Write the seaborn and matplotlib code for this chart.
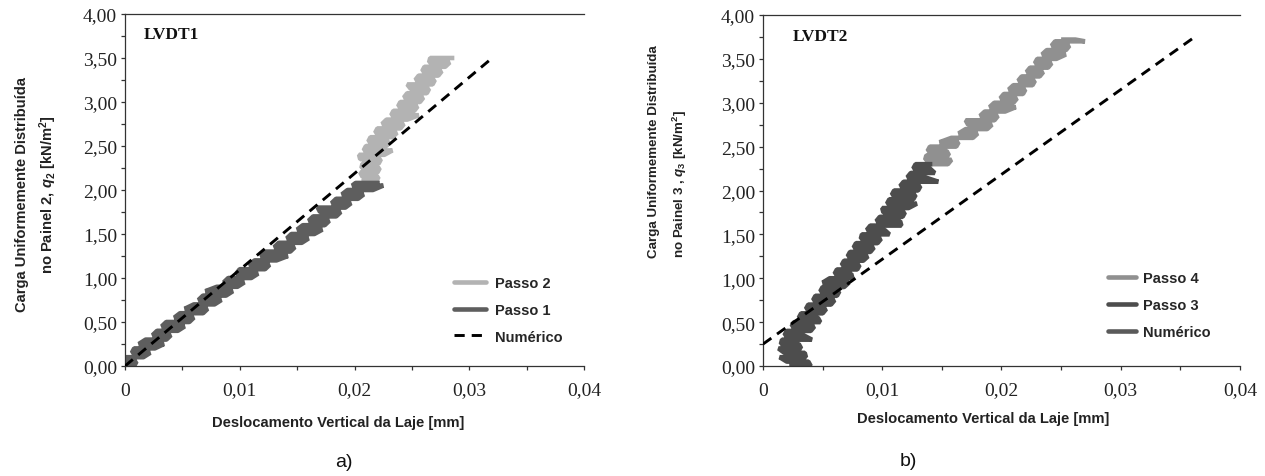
import matplotlib
matplotlib.use("Agg")
import matplotlib.pyplot as plt
from matplotlib.lines import Line2D
from matplotlib.ticker import MultipleLocator, FuncFormatter
import pandas as pd
import seaborn as sns

# ---------------- data ----------------
# LVDT1 - load step 1 (dark) and load step 2 (light); displacement in mm, load in kN/m2
p1_load = [0.00, 0.00, 0.05, 0.05, 0.10, 0.10, 0.15, 0.15, 0.20, 0.20, 0.25, 0.25,
           0.30, 0.30, 0.35, 0.35, 0.40, 0.40, 0.45, 0.45, 0.50, 0.50, 0.55, 0.55,
           0.60, 0.60, 0.65, 0.65, 0.70, 0.70, 0.75, 0.75, 0.80, 0.80, 0.85, 0.85,
           0.90, 0.90, 0.95, 0.95, 1.00, 1.00, 1.05, 1.05, 1.10, 1.10, 1.15, 1.15,
           1.20, 1.20, 1.25, 1.25, 1.30, 1.30, 1.35, 1.35, 1.40, 1.40, 1.45, 1.45,
           1.50, 1.50, 1.55, 1.55, 1.60, 1.60, 1.65, 1.65, 1.70, 1.70, 1.75, 1.75,
           1.80, 1.80, 1.85, 1.85, 1.90, 1.90, 1.95, 1.95, 2.00, 2.00, 2.05, 2.05,
           2.08, 2.08]
p1_disp = [0.0000, 0.0008, 0.0010, 0.0002, 0.0001, 0.0016, 0.0022, 0.0006, 0.0008, 0.0026,
           0.0034, 0.0012, 0.0018, 0.0036, 0.0040, 0.0024, 0.0028, 0.0046, 0.0052, 0.0032,
           0.0036, 0.0056, 0.0060, 0.0043, 0.0048, 0.0068, 0.0072, 0.0052, 0.0060, 0.0078,
           0.0084, 0.0064, 0.0068, 0.0088, 0.0094, 0.0070, 0.0080, 0.0098, 0.0104, 0.0086,
           0.0090, 0.0110, 0.0116, 0.0097, 0.0100, 0.0122, 0.0126, 0.0108, 0.0113, 0.0132,
           0.0142, 0.0118, 0.0123, 0.0144, 0.0148, 0.0130, 0.0134, 0.0154, 0.0160, 0.0141,
           0.0145, 0.0165, 0.0172, 0.0150, 0.0155, 0.0174, 0.0178, 0.0160, 0.0164, 0.0184,
           0.0188, 0.0170, 0.0168, 0.0192, 0.0197, 0.0180, 0.0184, 0.0203, 0.0208, 0.0189,
           0.0194, 0.0216, 0.0225, 0.0198, 0.0201, 0.0222]

p2_load = [2.10, 2.10, 2.15, 2.15, 2.20, 2.20, 2.25, 2.25, 2.30, 2.30, 2.35, 2.35,
           2.40, 2.40, 2.45, 2.45, 2.50, 2.50, 2.55, 2.55, 2.60, 2.60, 2.65, 2.65,
           2.70, 2.70, 2.75, 2.75, 2.80, 2.80, 2.85, 2.85, 2.90, 2.90, 2.95, 2.95,
           3.00, 3.00, 3.05, 3.05, 3.10, 3.10, 3.15, 3.15, 3.20, 3.20, 3.25, 3.25,
           3.30, 3.30, 3.35, 3.35, 3.40, 3.40, 3.45, 3.45, 3.50, 3.50]
p2_disp = [0.0206, 0.0219, 0.0221, 0.0207, 0.0205, 0.0220, 0.0222, 0.0206, 0.0207, 0.0221,
           0.0223, 0.0205, 0.0204, 0.0226, 0.0233, 0.0208, 0.0210, 0.0228, 0.0230, 0.0212,
           0.0214, 0.0233, 0.0237, 0.0218, 0.0220, 0.0240, 0.0243, 0.0224, 0.0228, 0.0246,
           0.0256, 0.0232, 0.0234, 0.0252, 0.0255, 0.0238, 0.0240, 0.0257, 0.0260, 0.0243,
           0.0246, 0.0263, 0.0265, 0.0249, 0.0246, 0.0268, 0.0270, 0.0253, 0.0256, 0.0273,
           0.0276, 0.0259, 0.0261, 0.0279, 0.0283, 0.0265, 0.0266, 0.0287]

num1_disp = [0.0, 0.032]
num1_load = [0.0, 3.50]

# LVDT2 - load step 3 (dark) and load step 4 (medium)
p3_load = [0.00, 0.00, 0.05, 0.05, 0.10, 0.10, 0.15, 0.15, 0.20, 0.20, 0.25, 0.25,
           0.30, 0.30, 0.35, 0.35, 0.40, 0.40, 0.45, 0.45, 0.50, 0.50, 0.55, 0.55,
           0.60, 0.60, 0.65, 0.65, 0.70, 0.70, 0.75, 0.75, 0.80, 0.80, 0.85, 0.85,
           0.90, 0.90, 0.95, 0.95, 1.00, 1.00, 1.05, 1.05, 1.10, 1.10, 1.15, 1.15,
           1.20, 1.20, 1.25, 1.25, 1.30, 1.30, 1.35, 1.35, 1.40, 1.40, 1.45, 1.45,
           1.50, 1.50, 1.55, 1.55, 1.60, 1.60, 1.65, 1.65, 1.70, 1.70, 1.75, 1.75,
           1.80, 1.80, 1.85, 1.85, 1.90, 1.90, 1.95, 1.95, 2.00, 2.00, 2.05, 2.05,
           2.10, 2.10, 2.15, 2.15, 2.20, 2.20, 2.25, 2.25, 2.30, 2.30]
p3_disp = [0.0022, 0.0040, 0.0038, 0.0020, 0.0014, 0.0036, 0.0035, 0.0018, 0.0013, 0.0032,
           0.0030, 0.0015, 0.0016, 0.0041, 0.0034, 0.0018, 0.0020, 0.0040, 0.0043, 0.0024,
           0.0026, 0.0048, 0.0046, 0.0030, 0.0032, 0.0050, 0.0053, 0.0036, 0.0038, 0.0057,
           0.0060, 0.0042, 0.0044, 0.0062, 0.0064, 0.0048, 0.0050, 0.0068, 0.0072, 0.0050,
           0.0056, 0.0075, 0.0074, 0.0060, 0.0062, 0.0079, 0.0081, 0.0066, 0.0068, 0.0084,
           0.0088, 0.0071, 0.0073, 0.0090, 0.0093, 0.0076, 0.0078, 0.0096, 0.0099, 0.0082,
           0.0083, 0.0106, 0.0102, 0.0087, 0.0090, 0.0116, 0.0115, 0.0095, 0.0098, 0.0117,
           0.0119, 0.0101, 0.0100, 0.0122, 0.0129, 0.0104, 0.0106, 0.0126, 0.0128, 0.0108,
           0.0110, 0.0130, 0.0132, 0.0115, 0.0118, 0.0147, 0.0136, 0.0121, 0.0124, 0.0144,
           0.0140, 0.0126, 0.0128, 0.0142]

p4_load = [2.30, 2.30, 2.35, 2.35, 2.40, 2.40, 2.45, 2.45, 2.50, 2.50, 2.55, 2.55,
           2.60, 2.60, 2.65, 2.65, 2.70, 2.70, 2.75, 2.75, 2.80, 2.80, 2.85, 2.85,
           2.90, 2.90, 2.95, 2.95, 3.00, 3.00, 3.05, 3.05, 3.10, 3.10, 3.15, 3.15,
           3.20, 3.20, 3.25, 3.25, 3.30, 3.30, 3.35, 3.35, 3.40, 3.40, 3.45, 3.45,
           3.50, 3.50, 3.55, 3.55, 3.60, 3.60, 3.65, 3.65, 3.70, 3.70, 3.72, 3.72]
p4_disp = [0.0138, 0.0155, 0.0158, 0.0136, 0.0137, 0.0156, 0.0154, 0.0138, 0.0140, 0.0162,
           0.0164, 0.0148, 0.0158, 0.0176, 0.0180, 0.0164, 0.0170, 0.0188, 0.0192, 0.0172,
           0.0170, 0.0194, 0.0197, 0.0182, 0.0186, 0.0203, 0.0212, 0.0190, 0.0194, 0.0210,
           0.0213, 0.0199, 0.0202, 0.0218, 0.0220, 0.0206, 0.0210, 0.0226, 0.0228, 0.0214,
           0.0217, 0.0232, 0.0235, 0.0221, 0.0224, 0.0239, 0.0242, 0.0228, 0.0230, 0.0246,
           0.0254, 0.0234, 0.0238, 0.0254, 0.0257, 0.0242, 0.0245, 0.0270, 0.0262, 0.0250]

num2_disp = [0.0, 0.036]
num2_load = [0.25, 3.73]

# ---------------- style ----------------
sns.set_theme(style="white")
plt.rcParams["font.family"] = ["Liberation Serif", "DejaVu Serif"]
plt.rcParams["mathtext.fontset"] = "custom"
plt.rcParams["mathtext.rm"] = "Liberation Sans:bold"
plt.rcParams["mathtext.it"] = "Liberation Sans:bold:italic"
plt.rcParams["mathtext.bf"] = "Liberation Sans:bold"

SANS = "Liberation Sans"
C_P1, C_P2 = "#5e5e5e", "#b3b3b3"
C_P3, C_P4 = "#4d4d4d", "#909090"
LW = 3.3
DASH = (0, (3.5, 2.4))
DLW = 2.1

W, H = 1265, 477
fig = plt.figure(figsize=(W / 100, H / 100), dpi=100)
ax1 = fig.add_axes([125 / W, 1 - 367 / H, (584 - 125) / W, (367 - 15) / H])
ax2 = fig.add_axes([763 / W, 1 - 367 / H, (1240 - 763) / W, (367 - 16) / H])


def draw_step(ax, disp, load, color):
    df = pd.DataFrame({"disp": disp, "load": load})
    sns.lineplot(data=df, x="disp", y="load", ax=ax, sort=False, estimator=None,
                 color=color, lw=LW, solid_joinstyle="bevel",
                 solid_capstyle="butt", zorder=2)


def draw_numeric(ax, disp, load):
    df = pd.DataFrame({"disp": disp, "load": load})
    sns.lineplot(data=df, x="disp", y="load", ax=ax, sort=False, estimator=None,
                 color="black", lw=DLW, linestyle=DASH, zorder=3)


def fmt_y(v, _):
    return f"{v:.2f}".replace(".", ",")


def fmt_x(v, _):
    if abs(v) < 1e-9:
        return "0"
    return f"{v:.2f}".replace(".", ",")


def style_axes(ax):
    ax.set_xlim(0, 0.04)
    ax.set_ylim(0, 4.0)
    ax.xaxis.set_major_locator(MultipleLocator(0.01))
    ax.xaxis.set_minor_locator(MultipleLocator(0.005))
    ax.yaxis.set_major_locator(MultipleLocator(0.5))
    ax.yaxis.set_minor_locator(MultipleLocator(0.25))
    ax.xaxis.set_major_formatter(FuncFormatter(fmt_x))
    ax.yaxis.set_major_formatter(FuncFormatter(fmt_y))
    ax.tick_params(axis="both", which="both", direction="out", length=3.2,
                   width=0.9, color="#333333", labelsize=14, labelcolor="#222222")
    ax.tick_params(axis="y", which="both", left=True, pad=2.5)
    ax.tick_params(axis="x", which="both", bottom=True, pad=8)
    for side in ("left", "bottom", "top"):
        ax.spines[side].set_visible(True)
        ax.spines[side].set_color("#333333")
        ax.spines[side].set_linewidth(0.9)
    ax.spines["right"].set_visible(False)
    ax.set_xlabel("")
    ax.set_ylabel("")
    ax.grid(False)


# ---------------- panel a ----------------
draw_step(ax1, p2_disp, p2_load, C_P2)
draw_step(ax1, p1_disp, p1_load, C_P1)
draw_numeric(ax1, num1_disp, num1_load)
style_axes(ax1)
ax1.text(0.04, 0.944, "LVDT1", transform=ax1.transAxes, fontsize=12.5,
         fontweight="bold", color="#111111", va="center", ha="left")
h1 = [Line2D([], [], color=C_P2, lw=LW),
      Line2D([], [], color=C_P1, lw=LW),
      Line2D([], [], color="black", lw=DLW, linestyle=DASH)]
ax1.legend(h1, ["Passo 2", "Passo 1", "Numérico"], loc="center left",
           bbox_to_anchor=(0.717, 0.160), frameon=False, borderpad=0,
           borderaxespad=0, handlelength=2.2, handletextpad=0.6,
           labelspacing=0.88, prop={"family": SANS, "weight": "bold", "size": 10.5})

# ---------------- panel b ----------------
draw_step(ax2, p4_disp, p4_load, C_P4)
draw_step(ax2, p3_disp, p3_load, C_P3)
draw_numeric(ax2, num2_disp, num2_load)
style_axes(ax2)
ax2.text(0.063, 0.94, "LVDT2", transform=ax2.transAxes, fontsize=12.5,
         fontweight="bold", color="#111111", va="center", ha="left")
h2 = [Line2D([], [], color=C_P4, lw=LW),
      Line2D([], [], color=C_P3, lw=LW),
      Line2D([], [], color="#5a5a5a", lw=LW)]
ax2.legend(h2, ["Passo 4", "Passo 3", "Numérico"], loc="center left",
           bbox_to_anchor=(0.723, 0.174), frameon=False, borderpad=0,
           borderaxespad=0, handlelength=1.9, handletextpad=0.5,
           labelspacing=0.9, prop={"family": SANS, "weight": "bold", "size": 10.5})

# ---------------- axis titles and captions ----------------
xlab = dict(family=SANS, fontweight="bold", fontsize=10.6, color="#222222")
fig.text(338 / W, 1 - 423 / H, "Deslocamento Vertical da Laje [mm]",
         ha="center", va="center", **xlab)
fig.text(983 / W, 1 - 419 / H, "Deslocamento Vertical da Laje [mm]",
         ha="center", va="center", **xlab)

ylab_a = dict(family=SANS, fontweight="bold", fontsize=10.6, color="#222222")
ylab_b = dict(family=SANS, fontweight="bold", fontsize=9.6, color="#222222")
fig.text(22 / W, 1 - 195 / H, "Carga Uniformemente Distribuída", rotation=90,
         ha="center", va="center", **ylab_a)
fig.text(48 / W, 1 - 195 / H, r"no Painel 2, $q_2$ [kN/m$^2$]", rotation=90,
         ha="center", va="center", **ylab_a)
fig.text(654 / W, 1 - 258 / H, "Carga Uniformemente Distribuída", rotation=90,
         ha="center", va="bottom", **ylab_b)
fig.text(680 / W, 1 - 258 / H, r"no Painel 3 , $q_3$ [kN/m$^2$]", rotation=90,
         ha="center", va="bottom", **ylab_b)

fig.text(344 / W, 1 - 463 / H, "a)", family=SANS, fontsize=14, ha="center",
         va="center", color="#111111")
fig.text(908 / W, 1 - 462 / H, "b)", family=SANS, fontsize=14, ha="center",
         va="center", color="#111111")

fig.savefig("out.png", dpi=100, facecolor="white")
